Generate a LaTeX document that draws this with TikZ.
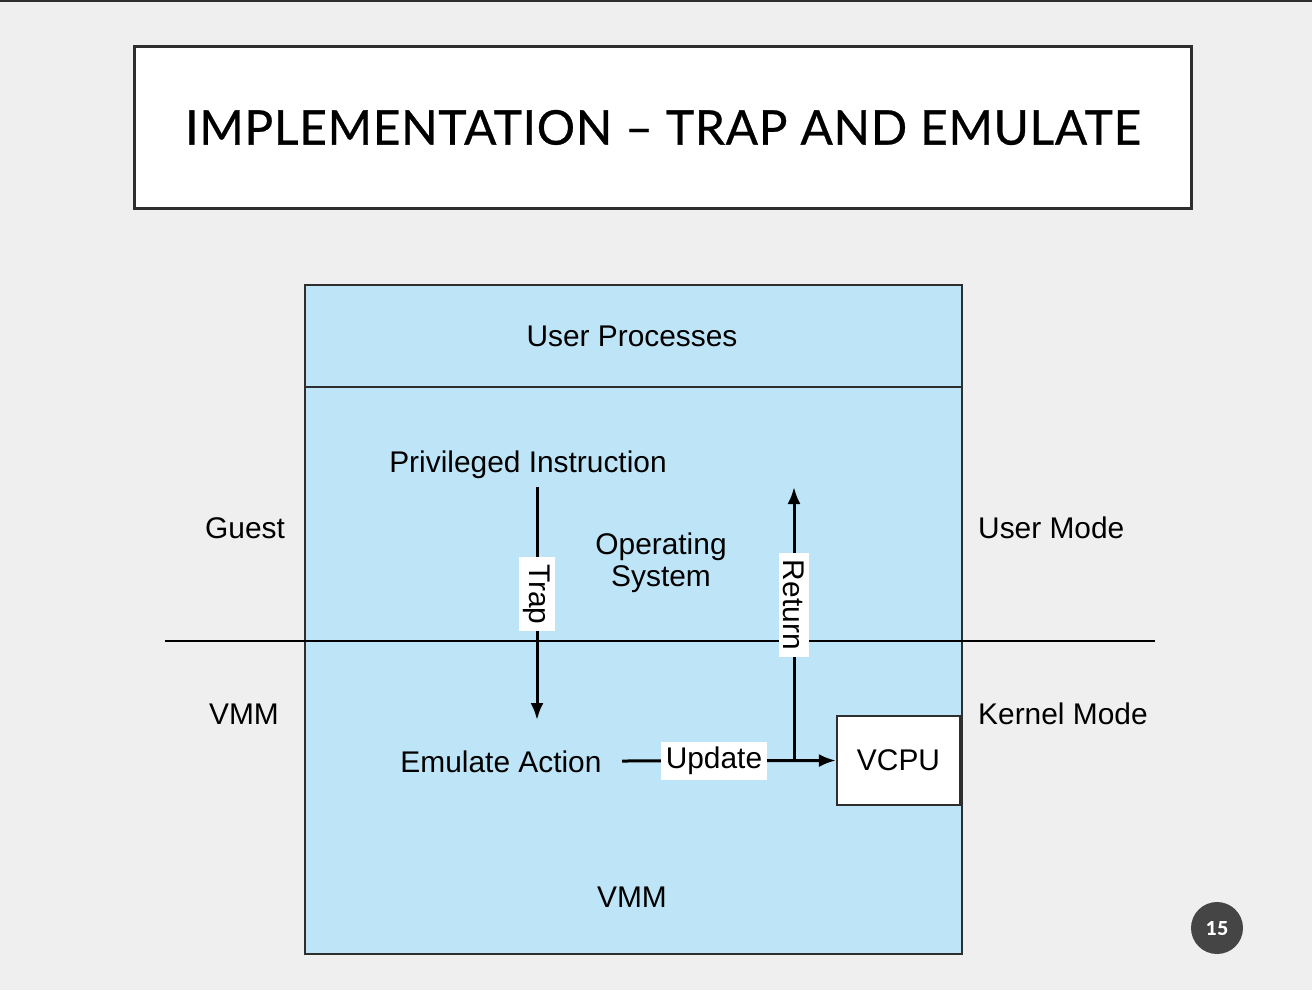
\documentclass[tikz,border=0pt]{standalone}
\usepackage{fontspec}
\setmainfont{Liberation Sans}
\newfontfamily\titlefont[LetterSpace=1.5, FakeBold=0.6]{Lato}
\usetikzlibrary{arrows.meta}
\definecolor{slidegray}{HTML}{EFEFEF}
\definecolor{vmblue}{HTML}{BEE5F7}
\definecolor{edgegray}{HTML}{2E2E2E}
\definecolor{pagegray}{HTML}{454545}

\begin{document}
\begin{tikzpicture}[x=1bp, y=-1bp]
      \tikzstyle{word} = [font=\fontsize{30}{32}\selectfont, text=black, inner sep=0pt]
      \tikzstyle{tag} = [word, fill=white, inner xsep=7bp, inner ysep=5bp]
      \tikzstyle{arr} = [-{Latex[length=17bp,width=13bp]}, line width=3bp, black]
      \tikzstyle{frame} = [draw=edgegray, line width=2.3bp]
      % slide
      \fill[slidegray] (0,0) rectangle (1312,990);
      \useasboundingbox (0,0) rectangle (1312,990);
      \draw[edgegray, line width=2bp] (0,1) -- (1312,1);
      \node (title) [frame, line width=3.8bp, fill=white, minimum width=1057bp, minimum height=162bp]
        at (663,127.5) {\titlefont\fontsize{48}{52}\selectfont IMPLEMENTATION – TRAP AND EMULATE};
      % guest and vmm
      \node (vmbox) [frame, fill=vmblue, minimum width=657bp, minimum height=669bp, anchor=north west]
        at (304,284) {};
      \coordinate (sepL) at (304,387);
      \coordinate (sepR) at (961,387);
      \draw[edgegray, line width=2bp] (sepL) -- (sepR);
      \node (user) [word] at (632,336) {User Processes};
      \node (priv) [word] at (528,465) {Privileged Instruction};
      \node (os) [word, align=center] at (661,563) {Operating\\System};
      \node (emu) [word] at (501,762) {Emulate Action};
      \node (vmm) [word] at (632,897) {VMM};
      \node (vcpu) [frame, word, fill=white, minimum width=123bp, minimum height=89bp]
        at (898.5,760.5) {VCPU};
      % modes
      \coordinate (modeL) at (165,641);
      \coordinate (modeR) at (1155,641);
      \draw[line width=2.6bp, black] (modeL) -- (modeR);
      \node (guest) [word] at (245,528) {Guest};
      \node (vmmL) [word] at (244,714) {VMM};
      \node (umode) [word, anchor=west] at (978,528) {User Mode};
      \node (kmode) [word, anchor=west] at (978,714) {Kernel Mode};
      % trap, update, return
      \coordinate (trapS) at (537,487);
      \coordinate (trapE) at (537,720);
      \draw[arr] (trapS) -- node [tag, rotate=-90, pos=0.46] {Trap} (trapE);
      \coordinate (updS) at (622,761);
      \coordinate (retS) at (794,761);
      \coordinate (retE) at (794,487);
      \draw[arr] (updS) -- node [tag, pos=0.43, inner xsep=5bp] {Update} (vcpu.west);
      \draw[arr] (retS) -- node [tag, rotate=-90, pos=0.57] {Return} (retE);
      % page number
      \node (page) [circle, fill=pagegray, minimum size=52bp, text=white,
        font=\titlefont\bfseries\fontsize{19}{19}\selectfont] at (1217,928) {15};
    \end{tikzpicture}
\end{document}
